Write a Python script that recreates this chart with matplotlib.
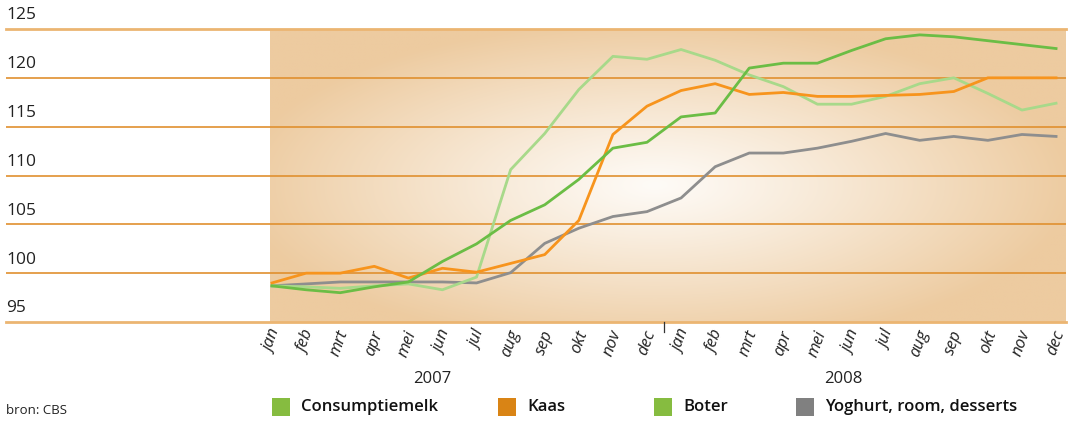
import numpy as np
import matplotlib
matplotlib.use("Agg")
import matplotlib.pyplot as plt
from matplotlib.patches import Rectangle
from matplotlib.colors import to_rgb
import matplotlib.transforms as mtransforms

plt.rcParams['font.family'] = ['Open Sans', 'DejaVu Sans']

months = ['jan', 'feb', 'mrt', 'apr', 'mei', 'jun', 'jul', 'aug', 'sep', 'okt', 'nov', 'dec'] * 2
years = ['2007', '2008']
yticks = [95, 100, 105, 110, 115, 120, 125]

# index values, jan 2007 .. dec 2008
consumptiemelk = [98.7, 98.3, 98.0, 98.6, 99.1, 101.2, 103.0, 105.4, 107.0, 109.6, 112.8, 113.4,
                  116.0, 116.4, 121.0, 121.5, 121.5, 122.8, 124.0, 124.4, 124.2, 123.8, 123.4, 123.0]
kaas = [99.0, 100.0, 100.0, 100.7, 99.5, 100.5, 100.1, 101.0, 101.9, 105.4, 114.2, 117.1,
        118.7, 119.4, 118.3, 118.5, 118.1, 118.1, 118.2, 118.3, 118.6, 120.0, 120.0, 120.0]
boter = [98.7, 98.6, 98.45, 98.7, 98.9, 98.3, 99.6, 110.6, 114.3, 118.8, 122.2, 121.9,
         122.9, 121.8, 120.3, 119.1, 117.3, 117.3, 118.1, 119.4, 120.0, 118.4, 116.7, 117.4]
yoghurt = [98.7, 98.9, 99.1, 99.1, 99.1, 99.1, 99.0, 100.05, 103.05, 104.6, 105.8, 106.3,
           107.7, 110.9, 112.3, 112.3, 112.8, 113.5, 114.3, 113.6, 114.0, 113.6, 114.2, 114.0]

W, H = 1068, 421
fig = plt.figure(figsize=(W / 100, H / 100), dpi=100)
ax_l, ax_r, ax_t, ax_b = 6, 1066, 29, 322
ax = fig.add_axes([ax_l / W, 1 - ax_b / H, (ax_r - ax_l) / W, (ax_b - ax_t) / H])

px = 34.09  # pixels per month
x0 = 272
xmin = -(x0 - ax_l) / px
xmax = (ax_r - x0) / px
ax.set_xlim(xmin, xmax)
ax.set_ylim(95, 125)
for s in ax.spines.values():
    s.set_visible(False)
ax.set_xticks([])
ax.set_yticks([])

# radial gradient background
gx0 = (270 - x0) / px
xs = np.linspace(270, ax_r, 400)
ys = np.linspace(ax_t, ax_b, 200)
XX, YY = np.meshgrid(xs, ys)
d = np.sqrt(((XX - 655) / 420) ** 2 + ((YY - 185) / 165) ** 2)
d = np.clip(d, 0, 1) ** 1.1
c_in = np.array(to_rgb('#fefbf7'))
c_out = np.array(to_rgb('#edcba0'))
img = c_in[None, None, :] * (1 - d[..., None]) + c_out[None, None, :] * d[..., None]
ax.imshow(img, extent=[gx0, xmax, 95, 125], origin='upper', aspect='auto', zorder=0,
          interpolation='bilinear')

for v in yticks:
    if v in (95, 125):
        ax.axhline(v, color='#ebb572', lw=2.0, zorder=1, clip_on=False)
    else:
        ax.axhline(v, color='#e0902f', lw=1.2, zorder=1)
    ax.annotate(str(v), xy=(0, v), xycoords=('axes fraction', 'data'),
                xytext=(0, 4), textcoords='offset points', ha='left', va='bottom',
                fontsize=12.5, color='#222222')

x = np.arange(24)
ax.plot(x, yoghurt, color='#8e8e8e', lw=2, zorder=3)
ax.plot(x, boter, color='#a8d98a', lw=2, zorder=3)
ax.plot(x, kaas, color='#f7941d', lw=2, zorder=4)
ax.plot(x, consumptiemelk, color='#6bbd45', lw=2, zorder=4)

trans = mtransforms.blended_transform_factory(ax.transData, ax.transAxes)
for i, m in enumerate(months):
    ax.text(i + 0.12, -0.03, m, transform=trans, rotation=70, rotation_mode='anchor',
            ha='right', va='center', fontsize=12, style='italic', color='#222222')
ax.plot([11.5, 11.5], [0, -0.035], transform=trans, color='#333333', lw=0.9, clip_on=False)
ax.text(4.7, -0.195, years[0], transform=trans, ha='center', va='center', fontsize=12, color='#222222')
ax.text(16.75, -0.195, years[1], transform=trans, ha='center', va='center', fontsize=12, color='#222222')

fig.text(6 / W, 1 - 410 / H, 'bron: CBS', ha='left', va='center', fontsize=9.5, color='#222222')

legend = [('Consumptiemelk', '#86bc40', 272), ('Kaas', '#d98415', 498),
          ('Boter', '#86bc40', 654), ('Yoghurt, room, desserts', '#808080', 796)]
for label, col, lx in legend:
    fig.patches.append(Rectangle((lx / W, 1 - 416 / H), 18 / W, 18 / H, transform=fig.transFigure,
                                 facecolor=col, edgecolor='none'))
    fig.text((lx + 29) / W, 1 - 407 / H, label, ha='left', va='center', fontsize=12,
             fontweight='semibold', color='#111111')

fig.savefig('out.png', dpi=100)
